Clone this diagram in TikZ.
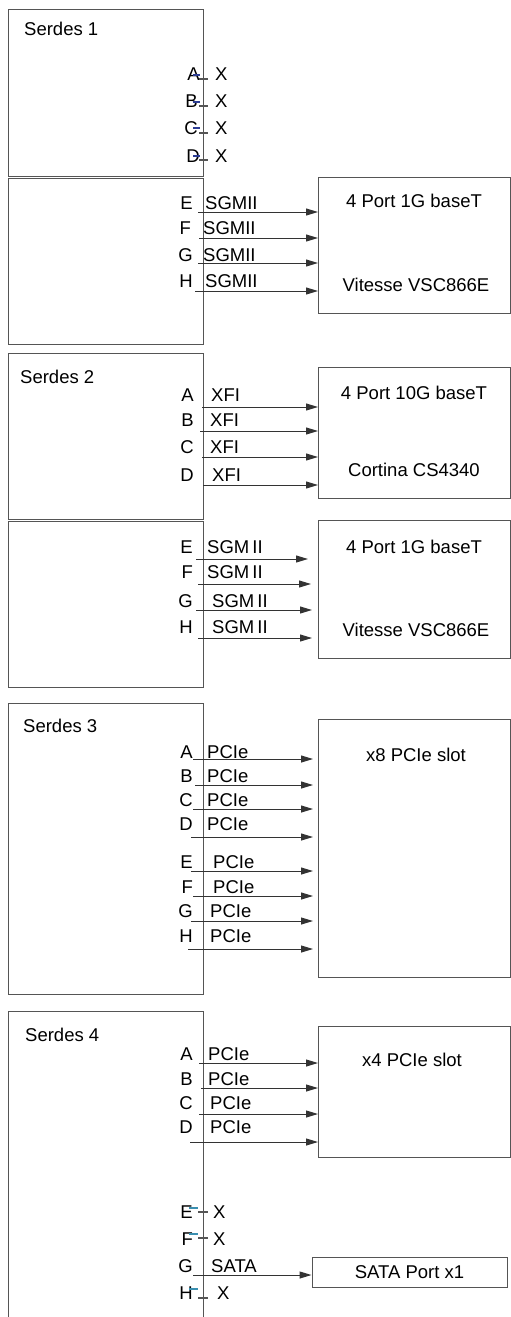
\documentclass[tikz,border=0pt]{standalone}
\usepackage{fontspec}
\setmainfont{Liberation Sans}
\usetikzlibrary{arrows.meta}
\definecolor{edgegray}{HTML}{555555}
\definecolor{lanegray}{HTML}{333333}
\definecolor{stubblue}{HTML}{2B3C94}
\definecolor{stubteal}{HTML}{3A8FB0}
\begin{document}
\begin{tikzpicture}[x=1pt,y=-1pt]
    \tikzset{every node/.style={inner sep=0pt, font=\fontsize{18.5}{22}\selectfont}}
    \tikzset{serdes/.style={draw=edgegray, line width=1pt, anchor=north west, minimum width=195pt}}
    \tikzset{chip/.style={draw=edgegray, line width=1pt, anchor=north west, minimum width=192pt}}
    \tikzset{lane/.style={-{Triangle[length=12pt,width=7pt]}, line width=1pt, draw=lanegray}}
    \tikzset{stub/.style={line width=1.3pt}}
    \useasboundingbox (0,0) rectangle (511,1317);

    % serdes blocks
    \node[serdes, minimum height=167pt] (s1top) at (8,9) {};
    \node[serdes, minimum height=166.5pt] (s1bot) at (8,177.5) {};
    \node[serdes, minimum height=166pt] (s2top) at (8,353) {};
    \node[serdes, minimum height=166.5pt] (s2bot) at (8,520.5) {};
    \node[serdes, minimum height=291pt] (s3) at (8,703) {};
    \node[serdes, minimum height=330pt] (s4) at (8,1011) {};
    \node[anchor=base west] (t1) at (24,35) {Serdes 1};
    \node[anchor=base west] (t2) at (20,383) {Serdes 2};
    \node[anchor=base west] (t3) at (23,732) {Serdes 3};
    \node[anchor=base west] (t4) at (25,1041) {Serdes 4};

    % devices
    \node[chip, minimum height=136pt] (vit1) at (318,177) {};
    \node[chip, minimum height=131pt] (cort) at (318,367) {};
    \node[chip, minimum height=138pt] (vit2) at (318,520) {};
    \node[chip, minimum height=258pt] (slot8) at (318,719) {};
    \node[chip, minimum height=131pt] (slot4) at (318,1026) {};
    \node[chip, minimum width=195pt, minimum height=30pt, anchor=center] (sata) at (409.5,1272) {SATA Port x1};
    \node[anchor=base] (vit1a) at (414,207) {4 Port 1G baseT};
    \node[anchor=base] (vit1b) at (416,291) {Vitesse VSC866E};
    \node[anchor=base] (corta) at (414,399) {4 Port 10G baseT};
    \node[anchor=base] (cortb) at (414,476) {Cortina CS4340};
    \node[anchor=base] (vit2a) at (414,553) {4 Port 1G baseT};
    \node[anchor=base] (vit2b) at (416,636) {Vitesse VSC866E};
    \node[anchor=base] (slot8a) at (416,761) {x8 PCIe slot};
    \node[anchor=base] (slot4a) at (412,1066) {x4 PCIe slot};

    % unused lanes
    \foreach \l/\xr/\yb/\yu/\yg in {A/200/80/75/79, B/198/107/102/106, C/198/134/128/133, D/200/162/156/160}{
        \node[anchor=base east] (u1\l) at (\xr,\yb) {\l};
        \node[anchor=base west] (x1\l) at (215,\yb) {X};
        \draw[stub, stubblue] (193,\yu) -- (200,\yu);
        \draw[stub, edgegray] (199,\yg) -- (208,\yg);
    }
    \foreach \l/\yb/\yu/\yg/\xx in {E/1218/1208/1212/213, F/1245/1234/1238/213, H/1299/1289/1298/217}{
        \node[anchor=base east] (u4\l) at (193,\yb) {\l};
        \node[anchor=base west] (x4\l) at (\xx,\yb) {X};
        \draw[stub, stubteal] (189,\yu) -- (198,\yu);
        \draw[stub, edgegray] (198,\yg) -- (208,\yg);
    }

    % serdes 1 to vitesse
    \foreach \l/\xr/\yb/\xn/\ya/\xs in {E/193/209/205/212/198, F/191/234/203/238/199, G/193/261/203/263/198, H/193/287/205/291/195}{
        \node[anchor=base east] (p1\l) at (\xr,\yb) {\l};
        \node[anchor=base west] (n1\l) at (\xn,\yb) {SGMII};
        \coordinate (a1\l) at (\xs,\ya);
        \draw[lane] (a1\l) -- (a1\l -| vit1.west);
    }

    % serdes 2 to cortina and vitesse
    \foreach \l/\yb/\xn/\ya/\xs in {A/401/211/407/202, B/426/210/431/200, C/453/210/457/202, D/481/212/485/203}{
        \node[anchor=base east] (p2\l) at (194,\yb) {\l};
        \node[anchor=base west] (n2\l) at (\xn,\yb) {XFI};
        \coordinate (a2\l) at (\xs,\ya);
        \draw[lane] (a2\l) -- (a2\l -| cort.west);
    }
    \foreach \l/\yb/\xn/\ya/\xs/\sh in {E/553/207/559/196/10, F/578/207/584/198/7, G/607/212/610/196/6, H/633/212/638/198/6}{
        \node[anchor=base east] (p2\l) at (193,\yb) {\l};
        \node[anchor=base west] (n2\l) at (\xn,\yb) {SGM\,II};
        \coordinate (a2\l) at (\xs,\ya);
        \draw[lane, shorten >=\sh pt] (a2\l) -- (a2\l -| vit2.west);
    }

    % serdes 3 to x8 slot
    \foreach \l/\yb/\xn/\ya/\xs in {A/758/207/759/193, B/782/207/785/195, C/806/207/809/193, D/830/207/837/191, E/868/213/871/191, F/893/213/896/193, G/917/210/921/191, H/942/210/949/188}{
        \node[anchor=base east] (p3\l) at (193,\yb) {\l};
        \node[anchor=base west] (n3\l) at (\xn,\yb) {PCIe};
        \coordinate (a3\l) at (\xs,\ya);
        \draw[lane, shorten >=5pt] (a3\l) -- (a3\l -| slot8.west);
    }

    % serdes 4 to x4 slot and sata
    \foreach \l/\yb/\xn/\ya/\xs in {A/1060/208/1063/199, B/1085/208/1088/201, C/1109/210/1114/199, D/1133/210/1142/190}{
        \node[anchor=base east] (p4\l) at (193,\yb) {\l};
        \node[anchor=base west] (n4\l) at (\xn,\yb) {PCIe};
        \coordinate (a4\l) at (\xs,\ya);
        \draw[lane] (a4\l) -- (a4\l -| slot4.west);
    }
    \node[anchor=base east] (p4G) at (193,1272) {G};
    \node[anchor=base west] (n4G) at (211,1272) {SATA};
    \coordinate (a4G) at (193,1275);
    \draw[lane] (a4G) -- (a4G -| sata.west);
\end{tikzpicture}
\end{document}
